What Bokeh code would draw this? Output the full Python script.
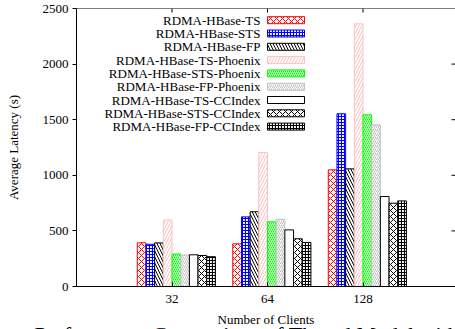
import numpy as np
from bokeh.plotting import figure
from bokeh.models import Range1d, FixedTicker, BoxAnnotation, Label, Span, LinearAxis
from bokeh.embed import file_html
from bokeh.resources import INLINE

# ---------------- data ----------------
categories = ["32", "64", "128"]
series_names = ["RDMA-HBase-TS", "RDMA-HBase-STS", "RDMA-HBase-FP",
                "RDMA-HBase-TS-Phoenix", "RDMA-HBase-STS-Phoenix", "RDMA-HBase-FP-Phoenix",
                "RDMA-HBase-TS-CCIndex", "RDMA-HBase-STS-CCIndex", "RDMA-HBase-FP-CCIndex"]
ts = [393, 384, 1049]
sts = [380, 626, 1553]
fp = [392, 672, 1058]
ts_phoenix = [598, 1205, 2362]
sts_phoenix = [292, 582, 1544]
fp_phoenix = [283, 605, 1454]
ts_ccindex = [285, 509, 809]
sts_ccindex = [279, 429, 749]
fp_ccindex = [268, 396, 770]
y_ticks = [0, 500, 1000, 1500, 2000, 2500]
x_title = "Number of Clients"
y_title = "Average Latency (s)"
caption = "Performance Comparison of Thread Model with"

series_values = [ts, sts, fp, ts_phoenix, sts_phoenix, fp_phoenix,
                 ts_ccindex, sts_ccindex, fp_ccindex]

# ---------------- styles ----------------
styles = [
    dict(line_color="#ff0000", hatch_color="#ff0000", hatch_pattern="diagonal_cross", hatch_scale=6, hatch_weight=1),
    dict(line_color="#0000ff", hatch_color="#0000ff", hatch_pattern="cross", hatch_scale=3, hatch_weight=1.2),
    dict(line_color="#000000", hatch_color="#000000", hatch_pattern="left_diagonal_line", hatch_scale=6, hatch_weight=1),
    dict(line_color="#ffc0c0", hatch_color="#ffc0c0", hatch_pattern="right_diagonal_line", hatch_scale=6, hatch_weight=1),
    dict(line_color="#00ff00", hatch_color="#00ff00", hatch_pattern="left_diagonal_line", hatch_scale=4, hatch_weight=1),
    dict(line_color="#c0c0c0", hatch_color="#c0c0c0", hatch_pattern="right_diagonal_line", hatch_scale=4, hatch_weight=1),
    dict(line_color="#000000", hatch_color="#000000", hatch_pattern=" ", hatch_scale=6, hatch_weight=1),
    dict(line_color="#000000", hatch_color="#000000", hatch_pattern="diagonal_cross", hatch_scale=6, hatch_weight=1),
    dict(line_color="#000000", hatch_color="#000000", hatch_pattern="cross", hatch_scale=3, hatch_weight=1.2),
]

FONT = "Liberation Serif"
FS = "13px"

# the canvas is taller than the window: the source image cuts its caption off
W, H = 455, 350
BL, BR, BT, BB = 76, 0, 8, 64
frame_w = W - BL - BR
frame_h = H - BT - BB
px_per_group = 95.5
x_end = frame_w / px_per_group
y_end = 2500

p = figure(width=W, height=H, output_backend="svg", toolbar_location=None,
           x_range=Range1d(0, x_end), y_range=Range1d(0, y_end),
           min_border_left=BL, min_border_right=BR, min_border_top=BT, min_border_bottom=BB,
           background_fill_color="white", border_fill_color="white")
p.outline_line_color = None
p.grid.visible = False

n = len(series_names)
bw = 1.0 / (n + 2)
centers = np.arange(1, len(categories) + 1)
for j, (name, vals, st) in enumerate(zip(series_names, series_values, styles)):
    xs = centers + (j - (n - 1) / 2 + 0.5) * bw
    p.vbar(x=xs, top=vals, width=bw, bottom=0, fill_color="white", line_width=1, **st)

# axes
xa = p.xaxis[0]
xa.ticker = FixedTicker(ticks=list(centers))
xa.major_label_overrides = {int(c): lab for c, lab in zip(centers, categories)}
xa.major_tick_in = 4
xa.major_tick_out = 0
xa.minor_tick_line_color = None
xa.major_label_standoff = 8
xa.axis_label = x_title
xa.axis_label_standoff = 6

ya = p.yaxis[0]
ya.ticker = FixedTicker(ticks=y_ticks)
ya.major_tick_in = 0
ya.major_tick_out = 4
ya.minor_tick_line_color = None
ya.major_label_standoff = 4
ya.axis_label = y_title
ya.axis_label_standoff = 19

for ax in (xa, ya):
    ax.major_label_text_font = FONT
    ax.major_label_text_font_size = FS
    ax.major_label_text_color = "black"
    ax.axis_label_text_font = FONT
    ax.axis_label_text_font_size = FS
    ax.axis_label_text_font_style = "normal"
    ax.axis_label_text_color = "black"
    ax.axis_line_color = "black"
    ax.major_tick_line_color = "black"

# caption of the source figure (only its top edge shows in the window);
# trailing no-break spaces move the centred text to start where the source's does
cap_ax = LinearAxis(ticker=FixedTicker(ticks=[]), axis_line_color=None, major_tick_out=0,
                    major_tick_in=0, minor_tick_out=0, minor_tick_in=0,
                    axis_label=caption + "\u00a0" * 7, axis_label_standoff=-8,
                    axis_label_text_font=FONT, axis_label_text_font_size="22px",
                    axis_label_text_font_style="normal", axis_label_text_color="black")
p.add_layout(cap_ax, "below")

# top border and mirrored ticks
p.add_layout(Span(location=y_end, dimension="width", line_color="black", line_width=1))
p.ray(x=centers, y=y_end, length=4, length_units="screen", angle=-np.pi / 2,
      line_color="black", line_width=1)
p.ray(x=x_end, y=y_ticks[1:-1], length=4, length_units="screen", angle=np.pi,
      line_color="black", line_width=1)

# ---------------- legend (manual, text left of swatch) ----------------
frame_left_px = float(BL)
frame_bottom_px = float(BT + frame_h)
def dx(px):
    return (px - frame_left_px) / px_per_group
def dy(py):
    return (frame_bottom_px - py) * y_end / frame_h

row0, row_step = 19.7, 13.3
text_right, box_l, box_r, box_h = 260, 267, 304, 7
for j, (name, st) in enumerate(zip(series_names, styles)):
    cy = row0 + j * row_step
    p.add_layout(Label(x=dx(text_right), y=dy(cy), text=name, text_align="right",
                       text_baseline="middle", text_font=FONT, text_font_size=FS,
                       text_color="black"))
    p.add_layout(BoxAnnotation(left=dx(box_l), right=dx(box_r), top=dy(cy - box_h / 2),
                               bottom=dy(cy + box_h / 2), fill_color="white", fill_alpha=1,
                               line_alpha=1, line_width=1, **st))

open("out.html", "w").write(file_html(p, INLINE))
